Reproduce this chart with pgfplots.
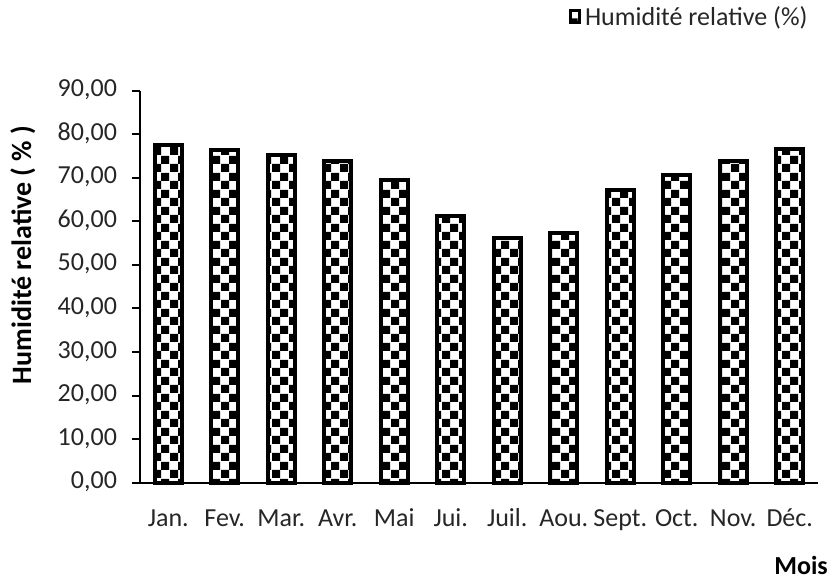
\documentclass[border=0pt]{standalone}
\usepackage{fontspec}
\setmainfont{Carlito}
\usepackage{pgfplots}
\pgfplotsset{compat=1.18}
\usetikzlibrary{patterns}

% checker squares 4.25pt
\pgfdeclarepatternformonly{checker}{\pgfpointorigin}{\pgfpoint{8.5pt}{8.5pt}}{\pgfpoint{8.5pt}{8.5pt}}{
  \pgfpathrectangle{\pgfpointorigin}{\pgfpoint{4.25pt}{4.25pt}}
  \pgfpathrectangle{\pgfpoint{4.25pt}{4.25pt}}{\pgfpoint{4.25pt}{4.25pt}}
  \pgfusepath{fill}
}

\definecolor{txt}{HTML}{262626}

\begin{document}
\fontsize{13}{15}\selectfont
\begin{tikzpicture}
\useasboundingbox (-70pt,-48.15pt) rectangle (348pt,241.35pt);
\begin{axis}[
  at={(0,0)}, anchor=south west,
  scale only axis,
  width=339pt, height=196pt,
  ybar, bar width=0.478,
  xmin=-0.5, xmax=11.5,
  ymin=0, ymax=90,
  axis lines=left,
  axis line style={line width=1pt, -},
  ytick={0,10,...,90},
  xtick={0,...,11},
  xticklabels={Jan.,Fev.,Mar.,Avr.,Mai,Jui.,Juil.,Aou.,Sept.,Oct.,Nov.,Déc.},
  minor xtick={-0.5,0.5,...,11.5},
  tick align=outside,
  major tick length=4pt, minor tick length=4pt,
  xtick style={draw=none},
  minor x tick style={line width=1pt, black},
  ytick style={line width=1pt, black},
  typeset ticklabels with strut,
  yticklabel style={text=txt, xshift=-3pt},
  xticklabel style={text=txt, yshift=-3pt},
  /pgf/number format/.cd, fixed, fixed zerofill, precision=2, use comma, assume math mode=true,
  /pgfplots/.cd,
  ylabel={\fontsize{14}{16}\selectfont\bfseries Humidité relative ( \% )},
  ylabel style={at={(axis description cs:-0.1726,0.581)}, anchor=center, text=black},
  legend style={draw=none, fill=none, at={(axis description cs:0.991,1.185)}, anchor=east,
    text=txt, inner sep=0pt, legend cell align=left,
    /tikz/every even column/.append style={column sep=2pt}},
  legend image code/.code={
    \draw[line width=1.5pt, black, pattern=checker] (0.75pt,-2.25pt) rectangle (5.25pt,3.75pt);
  },
  clip=false,
]
\addplot[draw=black, line width=2pt, pattern=checker, pattern color=black]
  coordinates {
  (0,77.6) (1,76.4) (2,75.2) (3,73.8) (4,69.5) (5,61.2)
  (6,56.1) (7,57.4) (8,67.3) (9,70.6) (10,73.8) (11,76.7)
};
\addlegendentry{Humidité relative (\%)}
\node[font=\bfseries, anchor=center, inner sep=0pt] at (axis description cs:0.975,-0.21) {Mois};
\end{axis}
\end{tikzpicture}
\end{document}
